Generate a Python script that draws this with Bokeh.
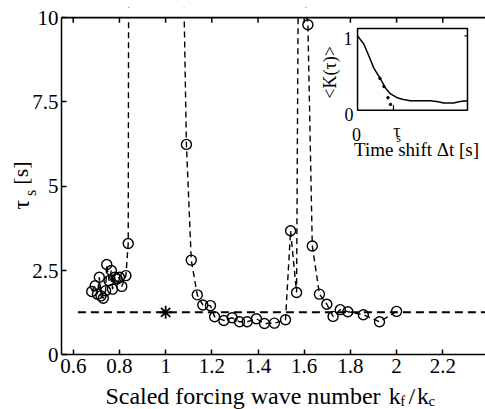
from math import pi
from bokeh.plotting import figure
from bokeh.models import Range1d, FixedTicker, Label
from bokeh.core.properties import value
from bokeh.embed import file_html
from bokeh.resources import INLINE

# ---- main data: scaled forcing wave number vs tau_s ----
k_ratio = [0.680, 0.695, 0.705, 0.713, 0.720, 0.730, 0.740, 0.745, 0.755, 0.765,
           0.770, 0.780, 0.790, 0.800, 0.810, 0.828, 0.838, 0.840, 1.078, 1.090,
           1.111, 1.137, 1.161, 1.194, 1.212, 1.252, 1.288, 1.320, 1.353, 1.393,
           1.428, 1.471, 1.519, 1.541, 1.567, 1.575, 1.616, 1.635, 1.666, 1.698,
           1.725, 1.756, 1.789, 1.856, 1.926, 2.000]
tau_s = [1.88, 2.05, 1.80, 2.30, 1.75, 1.68, 1.90, 2.68, 2.20, 2.50,
         1.95, 2.30, 2.25, 2.30, 2.03, 2.35, 3.30, 12.0, 11.0, 6.24,
         2.81, 1.78, 1.48, 1.46, 1.13, 1.02, 1.10, 0.98, 0.98, 1.07,
         0.93, 0.94, 1.04, 3.68, 1.85, 12.0, 9.79, 3.23, 1.80, 1.50,
         1.14, 1.34, 1.28, 1.19, 0.98, 1.29]

ref_x = [0.62, 2.40]
ref_y = [1.26, 1.26]
star_x = [1.0]
star_y = [1.26]

xtick_vals = [0.6, 0.8, 1.0, 1.2, 1.4, 1.6, 1.8, 2.0, 2.2]
xtick_labels = ["0.6", "0.8", "1", "1.2", "1.4", "1.6", "1.8", "2", "2.2"]
ytick_vals = [0, 2.5, 5, 7.5, 10]
ytick_labels = ["0", "2.5", "5", "7.5", "10"]

# ---- inset data: correlation <K(tau)> vs time shift ----
inset_t = [0.0, 0.17, 0.31, 0.44, 0.63, 0.76, 0.90, 1.08, 1.25, 1.44, 1.70,
           1.99, 2.20, 2.35, 2.62, 2.80, 3.00]
inset_K = [1.0, 0.89, 0.73, 0.57, 0.42, 0.30, 0.22, 0.17, 0.145, 0.13, 0.13,
           0.13, 0.115, 0.10, 0.10, 0.12, 0.13]
fit_t = [0.61, 0.72, 0.83, 0.90]
fit_K = [0.43, 0.32, 0.17, 0.08]

FONT = "Liberation Serif"
X_LEFT = 0.549   # x value at the left edge of the data frame
X_RIGHT = 2.385
Y_TOP = 10.0
Y_PAD = 10.3

p = figure(width=485, height=409, output_backend="svg", toolbar_location=None,
           x_range=Range1d(0.285, X_RIGHT), y_range=Range1d(-1.62, Y_PAD),
           min_border_left=0, min_border_right=0, min_border_top=7,
           min_border_bottom=0, background_fill_color="white",
           border_fill_color="white")
p.outline_line_color = None
p.xgrid.visible = False
p.ygrid.visible = False

def style_axis(ax, ticks, labels, size="21px"):
    ax.ticker = FixedTicker(ticks=ticks)
    ax.major_label_overrides = {t: l for t, l in zip(ticks, labels)}
    ax.major_tick_in = 5
    ax.major_tick_out = 0
    ax.minor_tick_line_color = None
    ax.axis_line_width = 1.5
    ax.major_tick_line_width = 1.5
    ax.axis_line_color = "black"
    ax.major_tick_line_color = "black"
    ax.major_label_text_font = FONT
    ax.major_label_text_font_size = size
    ax.major_label_text_color = "black"

xa = p.xaxis[0]
style_axis(xa, xtick_vals, xtick_labels)
xa.major_label_standoff = 4
xa.fixed_location = 0
xa.bounds = (X_LEFT, X_RIGHT)

ya = p.yaxis[0]
style_axis(ya, ytick_vals, ytick_labels)
ya.major_label_standoff = 3
ya.fixed_location = X_LEFT
ya.bounds = (0, Y_TOP)

# reference line and star
p.line(ref_x, ref_y, line_color="black", line_width=2, line_dash="8 5")
p.scatter(star_x, star_y, marker="asterisk", size=13, line_color="black", line_width=1.8)

# main series
p.line(k_ratio, tau_s, line_color="black", line_width=1.4, line_dash="6 4")
p.scatter(k_ratio, tau_s, marker="circle", size=10, fill_color=None,
          line_color="black", line_width=1.4)

# hide the off-scale part above the frame (tau_s > 10)
p.quad(left=[X_LEFT - 0.01], right=[X_RIGHT], bottom=[Y_TOP], top=[Y_PAD],
       fill_color="white", line_color=None)

# top border of the frame with inward ticks
p.segment(x0=[X_LEFT], y0=[Y_TOP], x1=[X_RIGHT], y1=[Y_TOP],
          line_color="black", line_width=1.6)
p.segment(x0=xtick_vals, y0=[Y_TOP] * len(xtick_vals), x1=xtick_vals,
          y1=[Y_TOP - 0.15] * len(xtick_vals), line_color="black", line_width=1.5)

# axis labels drawn as text pieces (for subscripts)
def lab(x, y, text, size, angle=0, align="center", baseline="middle"):
    p.add_layout(Label(x=x, y=y, text=text, angle=angle, text_font=FONT,
                       text_font_size=size, text_align=align,
                       text_baseline=baseline, text_color="black"))

lab(0.372, 4.45, "τ", "24px", angle=pi / 2)
lab(0.415, 4.80, "s", "16px", angle=pi / 2)
lab(0.372, 5.39, "[s]", "22px", angle=pi / 2)

lab(1.335, -1.206, "Scaled forcing wave number", "24px", baseline="alphabetic")
lab(1.966, -1.206, "k", "24px", align="left", baseline="alphabetic")
lab(2.016, -1.37, "f", "15px", align="left", baseline="alphabetic")
lab(2.052, -1.206, "/", "24px", align="left", baseline="alphabetic")
lab(2.088, -1.206, "k", "24px", align="left", baseline="alphabetic")
lab(2.138, -1.37, "c", "15px", align="left", baseline="alphabetic")

# ---- inset ----
sub = p.subplot(x_source=Range1d(0, 3), y_source=Range1d(0, 1.1),
                x_target=Range1d(1.831, 2.307), y_target=Range1d(7.25, 9.68))
sub.quad(left=[0], right=[3], bottom=[0], top=[1.1], fill_color="white",
         line_color="black", line_width=1.5)
sub.line(inset_t, inset_K, line_color="black", line_width=1.5)
sub.scatter(fit_t, fit_K, marker="circle", size=2.5, color="black")
sub.segment(x0=[0.98, 2.92], y0=[0.0, 1.0], x1=[0.98, 3.0], y1=[0.07, 1.0],
            line_color="black", line_width=1.2)

def itext(x, y, text, size, angle=0, align="center", baseline="middle"):
    sub.text(x=[x], y=[y], text=[text], angle=angle, text_font=value(FONT),
             text_font_size=value(size), text_align=align,
             text_baseline=baseline, text_color="black")

itext(-0.136, 0.97, "1", "18px", align="right")
itext(-0.11, -0.05, "0", "18px", align="right")
itext(-0.03, -0.32, "0", "18px", baseline="alphabetic")
itext(1.07, -0.28, "τ", "18px", baseline="alphabetic")
itext(1.12, -0.37, "s", "12px", baseline="alphabetic")
itext(1.61, -0.52, "Time shift Δt [s]", "19px", baseline="alphabetic")
itext(-0.76, 0.51, "<K(τ)>", "18px", angle=pi / 2)

open("out.html", "w").write(file_html(p, INLINE))
